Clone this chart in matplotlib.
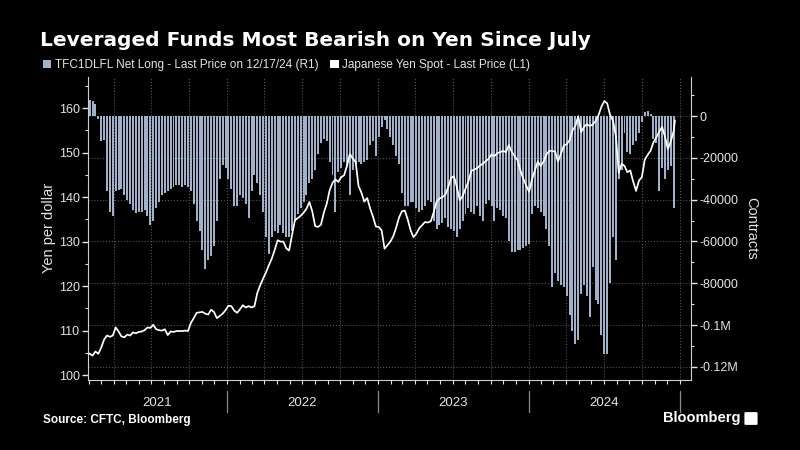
import numpy as np
import pandas as pd
import matplotlib
matplotlib.use('Agg')
import matplotlib.pyplot as plt
import matplotlib.dates as mdates
from matplotlib.patches import Patch, FancyBboxPatch
from matplotlib.ticker import MultipleLocator, NullFormatter

plt.rcParams['font.family'] = ['Liberation Sans', 'DejaVu Sans']

# CFTC leveraged funds net long on yen, thousands of contracts, weekly (R1)
net_long_k = [
    7.7, 7.4, 6.0, -1.5, -12, -11.5, -36, -46, -48, -36,
    -35.4, -35, -38, -40, -42, -45, -46.6, -46, -46, -45,
    -48, -52, -50, -44, -41, -38, -37, -36, -35, -34,
    -33, -33, -34, -33, -34, -36, -42, -50, -55, -64,
    -73, -69, -67, -62, -50, -30, -23.5, -25, -30, -35,
    -43, -43, -38, -39, -42, -49, -36, -28, -32, -38,
    -46, -58, -66, -58, -55, -56, -52, -56, -58, -58,
    -55, -50, -47, -44, -41, -38, -32, -30, -26, -18,
    -13, -11, -12, -22, -28, -46, -27, -25, -22, -24,
    -38, -26, -23, -22, -23, -22, -21, -14, -12, -19,
    -10, -5, -2, -6, -10, -14, -19, -23, -37, -43,
    -43, -41, -41, -44, -46, -45, -43, -40, -41, -50,
    -54, -52, -51, -49, -53, -54, -55, -58, -54, -50,
    -47, -44, -46, -47, -43, -48, -50, -42, -40, -43,
    -50, -44, -45, -48, -49, -60, -65, -65, -64, -64,
    -63, -62, -61, -47, -43, -44, -46, -48, -54, -62,
    -82, -75, -79, -81, -82, -86, -95, -103, -109, -107,
    -85, -81, -86, -96, -72, -88, -90, -105, -114, -114,
    -80, -58, -69, -30, -26, -8, -17, -18, -14, -12,
    -8, -3, 2, 2.2, 1, -11, -13, -36, -25, -30,
    -26, -24, -44,
]

# Japanese yen spot, yen per dollar (L1)
usdjpy = [
    104.8, 104.4, 105.3, 104.8, 106.2, 108.0, 108.9, 108.6, 108.9, 110.7,
    109.8, 108.7, 108.5, 109.1, 108.9, 109.6, 109.4, 109.7, 109.8, 110.1,
    110.7, 110.6, 111.3, 110.3, 110.1, 110.0, 110.3, 109.0, 109.8, 109.7,
    109.9, 109.9, 109.9, 110.0, 109.9, 111.7, 112.8, 114.0, 114.1, 114.2,
    113.8, 113.6, 114.7, 114.2, 112.8, 113.3, 113.8, 114.6, 115.6, 115.5,
    114.5, 114.0, 114.8, 115.7, 115.2, 115.5, 115.2, 115.5, 118.5, 120.2,
    121.7, 123.1, 124.7, 126.2, 128.1, 130.3, 130.0, 130.0, 128.5, 128.0,
    131.5, 134.8, 135.3, 135.8, 136.5, 137.4, 138.9, 136.8, 133.5, 133.3,
    133.8, 136.5, 138.5, 141.5, 143.2, 144.0, 143.4, 144.5, 144.9, 147.0,
    149.7, 148.7, 147.9, 142.5, 141.0, 139.0, 139.8, 137.5, 135.6, 133.4,
    133.3, 132.5, 128.4, 129.2, 130.0, 131.2, 133.1, 135.4, 136.8, 137.0,
    135.0, 132.6, 131.0, 131.8, 133.0, 133.7, 134.4, 134.3, 134.6, 136.6,
    139.0, 139.7, 140.0, 140.5, 142.2, 144.3, 144.7, 142.3, 139.3, 140.2,
    141.9, 143.5, 145.9, 146.2, 146.5, 147.1, 147.5, 148.1, 148.6, 149.6,
    149.2, 149.9, 150.1, 150.4, 150.1, 151.7, 150.2, 149.2, 148.3, 146.0,
    144.1, 142.6, 141.2, 144.0, 146.0, 148.0, 147.0, 148.0, 149.6, 150.4,
    150.4, 150.2, 148.0, 149.7, 151.6, 151.9, 152.8, 155.0, 156.0, 158.2,
    154.6, 155.8, 156.4, 156.0, 156.3, 157.1, 158.4, 160.3, 161.6, 161.1,
    158.5, 157.2, 153.8, 145.5, 147.5, 147.0, 145.6, 146.0, 143.5, 141.4,
    143.7, 144.5, 148.4, 149.5, 150.4, 152.3, 153.4, 154.7, 155.8, 153.6,
    150.8, 152.5, 154.8, 157.2,
]

last_bar = '2024-12-17'
last_spot = '2024-12-20'
years = [2021, 2022, 2023, 2024]
left_ticks = [100, 110, 120, 130, 140, 150, 160]
right_ticks = [0, -20000, -40000, -60000, -80000, -100000, -120000]
right_labels = ['0', '-20000', '-40000', '-60000', '-80000', '-0.1M', '-0.12M']

bar_col = '#a2b1ca'
txt_col = '#e4e4e4'
grid_col = '#555555'

bar_dates = pd.date_range(end=last_bar, periods=len(net_long_k), freq='7D')
spot_dates = bar_dates.append(pd.DatetimeIndex([last_spot]))
net_long = np.array(net_long_k) * 1000

fig = plt.figure(figsize=(8, 4.5), dpi=100, facecolor='black')
ax = fig.add_axes([88 / 800, 70 / 450, 603 / 800, 303 / 450])
ax2 = ax.twinx()
ax.set_zorder(ax2.get_zorder() + 1)
ax.patch.set_visible(False)
ax2.xaxis.set_visible(True)
ax.xaxis.set_visible(False)

# bars (right axis)
ax2.bar(bar_dates, net_long, width=4.8, color=bar_col, zorder=2)
ax2.set_ylim(-126300, 18700)
ax2.set_yticks(right_ticks)
ax2.set_yticklabels(right_labels)
ax2.yaxis.set_minor_locator(MultipleLocator(10000))
ax2.set_axisbelow(True)
ax2.grid(axis='y', which='major', color=grid_col, ls=':', lw=0.8)
ax2.grid(axis='x', which='major', color=grid_col, ls=':', lw=0.8)

ax2.set_xlim(pd.Timestamp('2021-01-29'), pd.Timestamp('2025-01-28'))
ax2.xaxis.set_major_locator(mdates.MonthLocator(bymonth=[1, 4, 7, 10]))
ax2.xaxis.set_minor_locator(mdates.MonthLocator())
ax2.xaxis.set_major_formatter(NullFormatter())
ax2.xaxis.set_minor_formatter(NullFormatter())
ax2.tick_params(axis='x', which='both', length=3, width=0.8, colors=txt_col, direction='out')
ax2.tick_params(axis='y', which='major', length=4, width=1, colors=txt_col, labelsize=9, pad=2)
ax2.tick_params(axis='y', which='minor', length=2.5, width=0.8, colors=txt_col)

# yen line (left axis)
ax.plot(spot_dates, usdjpy, color='white', lw=1.25, zorder=3)
ax.set_ylim(98.9, 167.0)
ax.set_yticks(left_ticks)
ax.yaxis.set_minor_locator(MultipleLocator(5))
ax.tick_params(axis='y', which='major', length=4, width=1, colors=txt_col, labelsize=9, pad=2)
ax.tick_params(axis='y', which='minor', length=2.5, width=0.8, colors=txt_col)

for s in ['top', 'right', 'bottom']:
    ax.spines[s].set_visible(False)
ax.spines['left'].set_color('#cfcfcf')
for s in ['top', 'left']:
    ax2.spines[s].set_visible(False)
ax2.spines['right'].set_color('#cfcfcf')
ax2.spines['bottom'].set_color('#cfcfcf')

# year labels with separators below the axis
tr = ax2.get_xaxis_transform()
x0 = ax2.get_xlim()[0]
for y in years:
    a = max(mdates.date2num(pd.Timestamp(f'{y}-01-01')), x0)
    b = mdates.date2num(pd.Timestamp(f'{y + 1}-01-01'))
    ax2.text((a + b) / 2, -0.076, str(y), transform=tr, ha='center', va='center',
             color=txt_col, fontsize=9.5)
    ax2.plot([b, b], [-0.035, -0.106], transform=tr, color='#8a8a8a', lw=0.9, clip_on=False)

fig.text(49 / 800, 1 - 228 / 450, 'Yen per dollar', rotation=90, ha='center', va='center',
         color=txt_col, fontsize=10.5)
fig.text(751 / 800, 1 - 228 / 450, 'Contracts', rotation=270, ha='center', va='center',
         color=txt_col, fontsize=10.5)

fig.text(40 / 800, 1 - 40 / 450, 'Leveraged Funds Most Bearish on Yen Since July',
         color='white', fontsize=14.5, fontweight='bold', ha='left', va='center',
         family=['DejaVu Sans'])

handles = [Patch(facecolor=bar_col, label='TFC1DLFL Net Long - Last Price on 12/17/24 (R1)'),
           Patch(facecolor='white', label='Japanese Yen Spot - Last Price (L1)')]
fig.legend(handles=handles, loc='center left', bbox_to_anchor=(43 / 800, 1 - 65 / 450), ncol=2,
           frameon=False, fontsize=8.5, labelcolor=txt_col, handlelength=0.7, handleheight=0.7,
           handletextpad=0.3, columnspacing=1.0, borderpad=0, borderaxespad=0)

fig.text(43 / 800, 1 - 420 / 450, 'Source: CFTC, Bloomberg', color='white', fontsize=8.5,
         fontweight='bold', ha='left', va='center')
fig.text(741 / 800, 1 - 418 / 450, 'Bloomberg', color='white', fontsize=10.5,
         fontweight='bold', ha='right', va='center')
fig.add_artist(FancyBboxPatch((746 / 800, 1 - 424 / 450), 10 / 800, 11 / 450,
                              boxstyle='round,pad=0.002', facecolor='white', edgecolor='none',
                              transform=fig.transFigure))

fig.savefig('out.png', dpi=100, facecolor='black')
